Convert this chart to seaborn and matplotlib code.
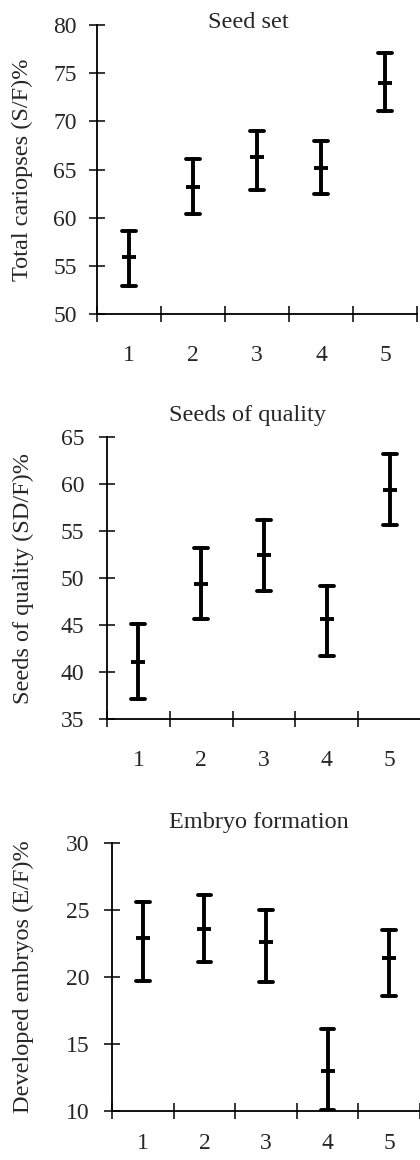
import matplotlib
matplotlib.use("Agg")
import matplotlib.pyplot as plt
import numpy as np
import pandas as pd
import seaborn as sns

sns.set_style("ticks")
plt.rcParams["font.family"] = ["Liberation Serif", "DejaVu Serif"]

groups = ["1", "2", "3", "4", "5"]

# mean with lower / upper end of the error bar
seed_set_mean = [55.9, 63.2, 66.3, 65.2, 74.0]
seed_set_low = [52.9, 60.4, 62.9, 62.5, 71.1]
seed_set_high = [58.6, 66.1, 69.0, 68.0, 77.1]

quality_mean = [41.1, 49.4, 52.4, 45.6, 59.4]
quality_low = [37.1, 45.6, 48.6, 41.7, 55.6]
quality_high = [45.1, 53.2, 56.2, 49.2, 63.2]

embryo_mean = [22.9, 23.6, 22.6, 13.0, 21.4]
embryo_low = [19.7, 21.1, 19.6, 10.1, 18.6]
embryo_high = [25.6, 26.1, 25.0, 16.1, 23.5]

panels = [
    {"title": "Seed set", "ylabel": "Total cariopses (S/F)%",
     "mean": seed_set_mean, "low": seed_set_low, "high": seed_set_high,
     "ylim": (50, 80), "rect": [97 / 420, 1 - 314 / 1160, 320 / 420, 289 / 1160],
     "title_xy": (0.472, 1.007), "label_x": -0.20, "ypad": 9, "xpad": 22},
    {"title": "Seeds of quality", "ylabel": "Seeds of quality (SD/F)%",
     "mean": quality_mean, "low": quality_low, "high": quality_high,
     "ylim": (35, 65), "rect": [107 / 420, 1 - 719 / 1160, 314 / 420, 282 / 1160],
     "title_xy": (0.449, 1.078), "label_x": -0.232, "ypad": 11, "xpad": 22},
    {"title": "Embryo formation", "ylabel": "Developed embryos (E/F)%",
     "mean": embryo_mean, "low": embryo_low, "high": embryo_high,
     "ylim": (10, 30), "rect": [112 / 420, 1 - 1111 / 1160, 308 / 420, 268 / 1160],
     "title_xy": (0.477, 1.078), "label_x": -0.253, "ypad": 11, "xpad": 16},
]

fig = plt.figure(figsize=(4.2, 11.6), dpi=100)

for panel in panels:
    ax = fig.add_axes(panel["rect"])
    table = pd.DataFrame({
        "group": groups * 3,
        "value": panel["low"] + panel["mean"] + panel["high"],
    })
    # median of (low, mean, high) is the mean; the 0-100 interval spans low..high
    sns.pointplot(data=table, x="group", y="value", order=groups,
                  estimator="median", errorbar=("pi", 100),
                  linestyle="none", marker="_", markersize=9.5,
                  markeredgewidth=2.8, color="black", capsize=0.22,
                  err_kws={"linewidth": 2.8}, ax=ax)

    n = len(groups)
    ax.set_xlim(-0.5, n - 0.5)
    ax.set_xticks(np.arange(n + 1) - 0.5)
    ax.set_xticklabels([])
    ax.set_xticks(np.arange(n), minor=True)
    ax.set_xticklabels(groups, minor=True)
    ax.tick_params(axis="x", which="major", direction="inout", length=11, width=1.3)
    ax.tick_params(axis="x", which="minor", length=0, pad=panel["xpad"], labelsize=17)

    lo, hi = panel["ylim"]
    ax.set_ylim(lo, hi)
    ax.set_yticks(np.arange(lo, hi + 1, 5))
    ax.tick_params(axis="y", direction="inout", length=11, width=1.3,
                   pad=panel["ypad"], labelsize=17)

    sns.despine(ax=ax)
    for side in ["left", "bottom"]:
        ax.spines[side].set_linewidth(1.3)
        ax.spines[side].set_color("black")

    ax.set_xlabel("")
    ax.set_ylabel(panel["ylabel"], fontsize=17.5)
    ax.yaxis.set_label_coords(panel["label_x"], 0.5)
    tx, ty = panel["title_xy"]
    ax.text(tx, ty, panel["title"], transform=ax.transAxes, ha="center",
            va="center", fontsize=17.5)

fig.savefig("out.png", dpi=100)
